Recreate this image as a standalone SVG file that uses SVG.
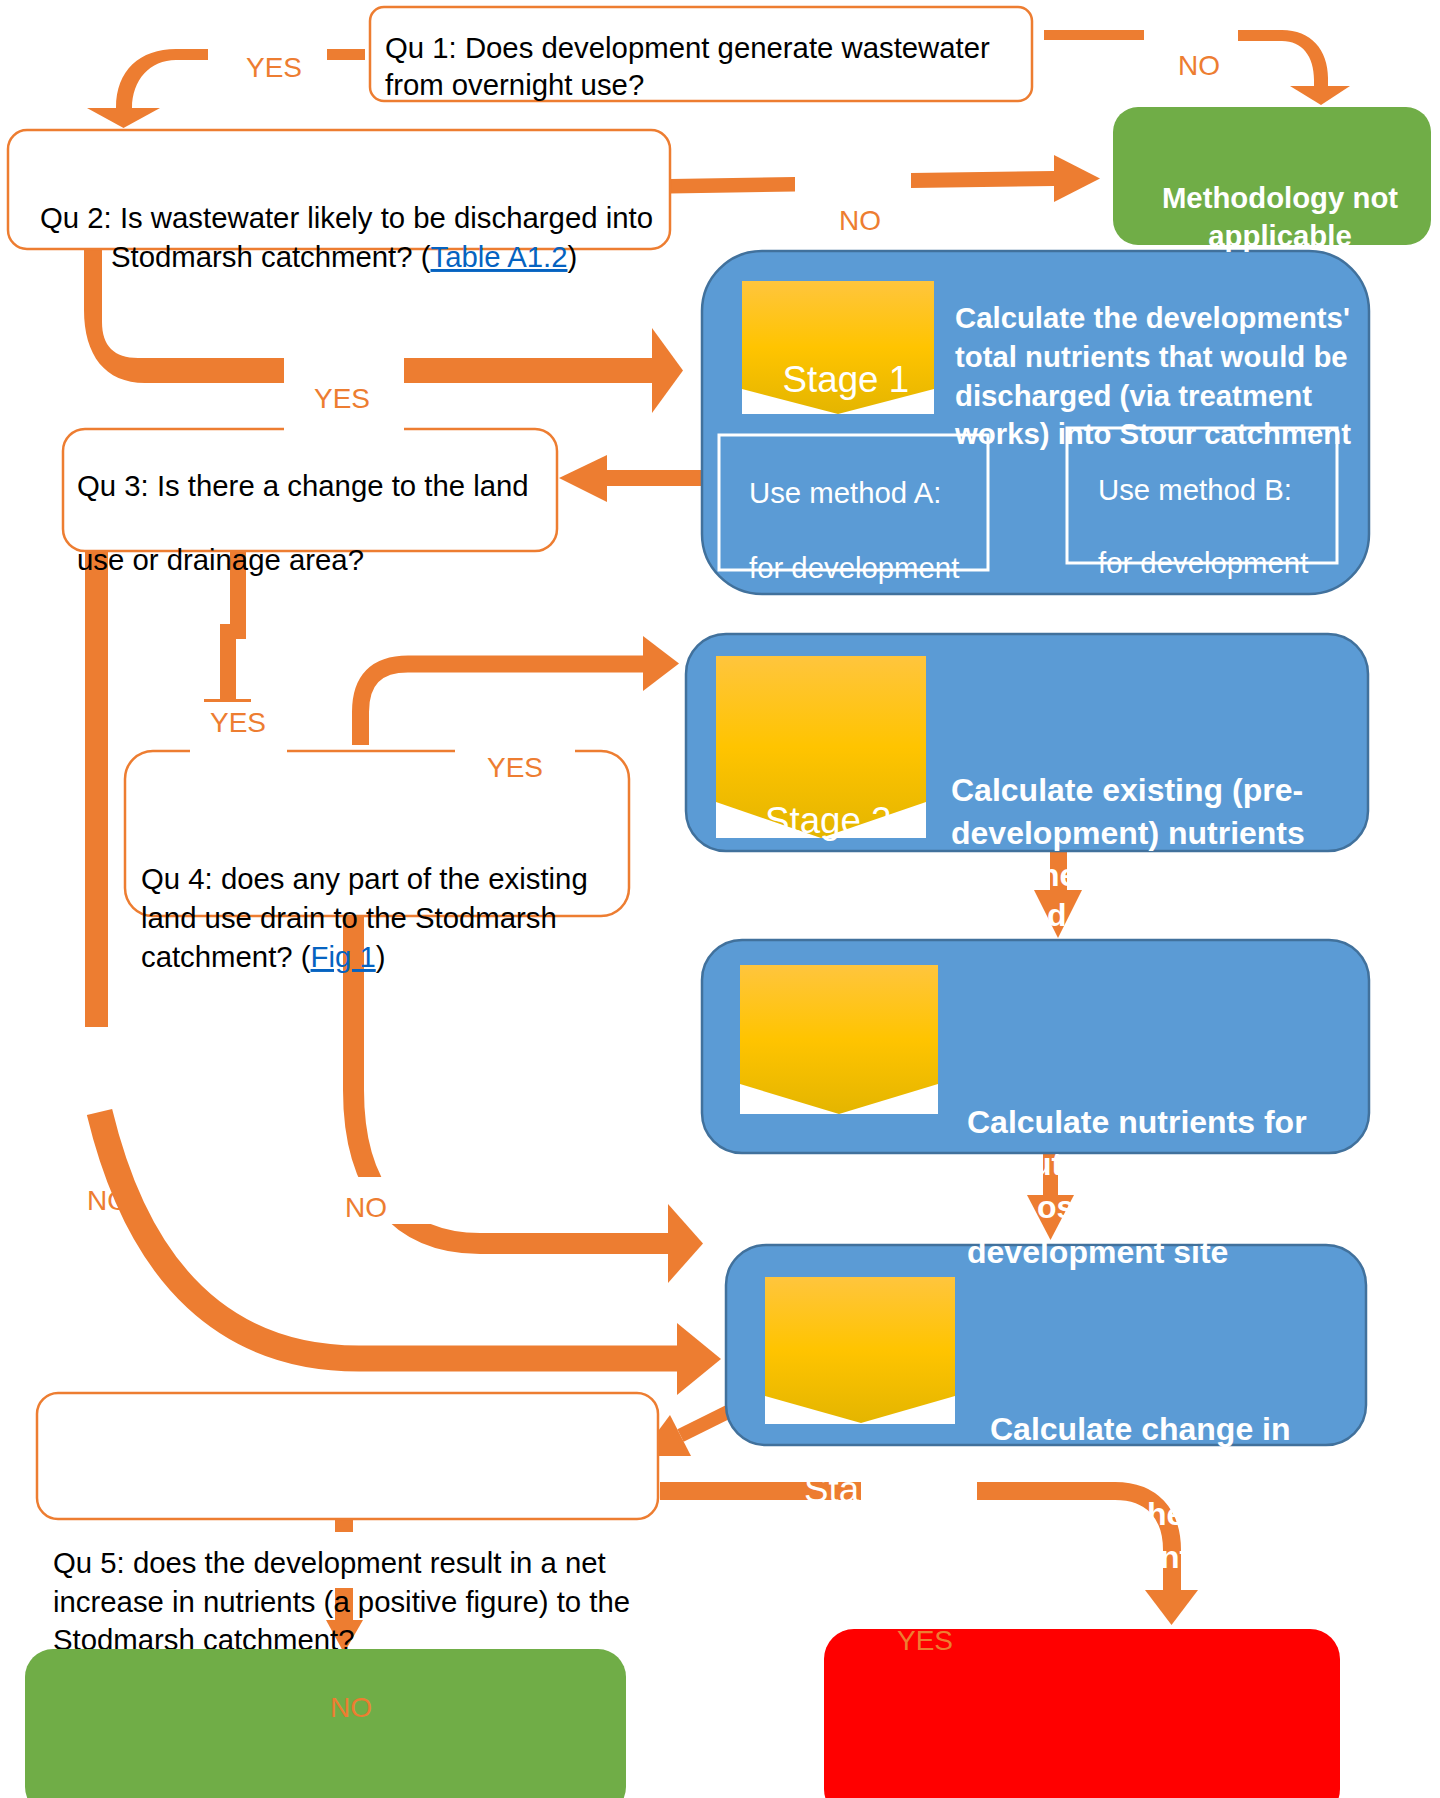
<svg xmlns="http://www.w3.org/2000/svg" width="1440" height="1798" viewBox="0 0 1440 1798">
<defs>
<linearGradient id="gold" x1="0" y1="0" x2="0" y2="1">
<stop offset="0" stop-color="#FFC53D"/>
<stop offset="0.5" stop-color="#FFC400"/>
<stop offset="1" stop-color="#E4B500"/>
</linearGradient>
</defs>
<style>
.q{fill:#fff;stroke:#ED7D31;stroke-width:2.5}
.stage{fill:#5B9BD5;stroke:#41719C;stroke-width:2.5}
.green{fill:#70AD47}
.t{font-family:"Liberation Sans",Arial,sans-serif;font-size:29.33px;fill:#000}
.wt{font-family:"Liberation Sans",Arial,sans-serif;font-size:29.33px;fill:#fff;font-weight:bold}
.wt32{font-family:"Liberation Sans",Arial,sans-serif;font-size:32px;fill:#fff;font-weight:bold}
.wr{font-family:"Liberation Sans",Arial,sans-serif;font-size:29.33px;fill:#fff}
.stg{font-family:"Liberation Sans",Arial,sans-serif;font-size:36.7px;fill:#fff}
.lab{font-family:"Liberation Sans",Arial,sans-serif;font-size:28px;fill:#ED7D31}
.link{fill:#0563C1;text-decoration:underline}
.meth{fill:none;stroke:#fff;stroke-width:3}
.os{fill:none;stroke:#ED7D31}
.mask{fill:#fff}
</style>
<rect x="0" y="0" width="1440" height="1798" fill="#fff"/>

<g id="label-no-qu3">
<text class="lab" x="87" y="1210">NO</text>
</g>

<g id="connectors" fill="#ED7D31">
<!-- Qu1 YES -> Qu2 -->
<rect x="327" y="49" width="38" height="11"/>
<path d="M208 49 H176 C140 49 116 70 116 108 H132 C132 80 150 60 176 60 H208 Z"/>
<polygon points="87,108 160,108 123.5,128"/>
<!-- Qu1 NO -> Methodology -->
<rect x="1044" y="30" width="100" height="10"/>
<path d="M1238 30 H1282 C1311 30 1328 50 1328 78 V86 H1314 V80 C1314 56 1302 41 1282 41 H1238 Z"/>
<polygon points="1290,86 1350,86 1321,105"/>
<!-- Qu2 NO -> Methodology -->
<polygon points="670,179 795,177 795,191.5 670,193.5"/>
<polygon points="911,173 1054,171 1054,186 911,188"/>
<polygon points="1054,155 1100,178.5 1054,202"/>
<!-- Qu2 YES -> Stage 1 -->
<path d="M84 249 V310 C84 355 105 383 145 383 H284 V358 H138 C114 358 102 346 102 322 V249 Z"/>
<rect x="404" y="358" width="250" height="25"/>
<polygon points="652,328 683,370.5 652,413"/>
<!-- Stage 1 -> Qu3 -->
<rect x="606" y="470" width="97" height="16"/>
<polygon points="607,455 559,478 607,502"/>
<!-- Qu3 YES -> Qu4 -->
<rect x="230" y="551" width="16" height="88"/>
<rect x="220" y="624" width="16" height="76"/>
<rect x="204" y="699" width="47" height="3"/>
<!-- Qu4 YES -> Stage 2 -->
<path class="os" stroke-width="17" d="M360.5 745 V712 Q360.5 664 408 664 H645"/>
<polygon points="643,636 679,663.5 643,691"/>
<!-- Qu3 NO -> Stage 4 -->
<rect x="85" y="551" width="23" height="476"/>
<path class="os" stroke-width="26" d="M99.5 1112 C140 1280 230 1358.5 359 1358.5 H680"/>
<polygon points="677,1323 721,1359 677,1395"/>
<!-- Qu4 NO -> Stage 3/4 -->
<path class="os" stroke-width="21" d="M353.5 916 V1090 C353.5 1190 400 1243.5 480 1243.5 H670"/>
<polygon points="668,1204 703,1243.5 668,1283"/>
<!-- Stage 2 -> Stage 3 -->
<rect x="1050" y="851" width="17" height="40"/>
<polygon points="1034,890 1082,890 1058,938"/>
<!-- Stage 3 -> Stage 4 -->
<rect x="1043" y="1153" width="15" height="43"/>
<polygon points="1027,1195 1074,1195 1050.5,1240"/>
<!-- Stage 4 -> Qu5 -->
<polygon points="744.9,1395.7 751.1,1408.3 683.6,1441.8 677.4,1429.2"/>
<polygon points="670,1415 691,1456 639.5,1456"/>
<!-- Qu5 NO -> green -->
<rect x="335" y="1519" width="18" height="13"/>
<rect x="335" y="1588" width="18" height="33"/>
<polygon points="326,1620 363,1620 344,1653"/>
<!-- Qu5 YES -> red -->
<rect x="660" y="1482" width="201" height="18"/>
<path class="os" stroke-width="18" d="M977 1491 H1115 C1152 1491 1172 1514 1172 1550 V1591"/>
<polygon points="1145,1590 1198,1590 1171.5,1625"/>
</g>

<g id="qu1">
<rect class="q" x="370" y="7" width="662" height="94" rx="14"/>
<text class="t" x="385" y="58">Qu 1: Does development generate wastewater</text>
<text class="t" x="385" y="95">from overnight use?</text>
</g>

<g id="qu2">
<rect class="q" x="8" y="130" width="662" height="119" rx="19"/>
<text class="t" x="40" y="228">Qu 2: Is wastewater likely to be discharged into</text>
<text class="t" x="111" y="267">Stodmarsh catchment? (<tspan class="link">Table A1.2</tspan>)</text>
</g>

<g id="stage1">
<rect class="stage" x="702" y="251" width="667" height="343" rx="60"/>
<rect x="742" y="281" width="192" height="133" fill="#fff"/>
<polygon points="742,281 934,281 934,389 838,414 742,389" fill="url(#gold)"/>
<text class="stg" x="782.6" y="392">Stage 1</text>
<text class="wt" x="955" y="328">Calculate the developments'</text>
<text class="wt" x="955" y="367">total nutrients that would be</text>
<text class="wt" x="955" y="406">discharged (via treatment</text>
<text class="wt" x="955" y="444">works) into Stour catchment</text>
<g id="methodA">
<rect class="meth" x="719" y="435" width="269" height="135"/>
<text class="wr" x="749" y="503">Use method A:</text>
<text class="wr" x="749" y="578">for development</text>
</g>
<g id="methodB">
<rect class="meth" x="1067" y="428" width="270" height="135"/>
<text class="wr" x="1098" y="500">Use method B:</text>
<text class="wr" x="1098" y="573">for development</text>
</g>
</g>

<g id="methodology-not-applicable">
<rect class="green" x="1113" y="107" width="318" height="138" rx="25"/>
<text class="wt" x="1280" y="208" text-anchor="middle">Methodology not</text>
<text class="wt" x="1280" y="246" text-anchor="middle">applicable</text>
</g>

<g id="qu3">
<rect class="q" x="63" y="429" width="494" height="122" rx="22"/>
<text class="t" x="77" y="496">Qu 3: Is there a change to the land</text>
<text class="t" x="77" y="570">use or drainage area?</text>
</g>

<g id="qu4">
<rect class="q" x="125" y="751" width="504" height="165" rx="28"/>
<text class="t" x="141" y="889">Qu 4: does any part of the existing</text>
<text class="t" x="141" y="928">land use drain to the Stodmarsh</text>
<text class="t" x="141" y="967">catchment? (<tspan class="link">Fig 1</tspan>)</text>
</g>

<g id="stage4">
<rect class="stage" x="726" y="1245" width="640" height="200" rx="40"/>
<rect x="765" y="1277" width="190" height="147" fill="#fff"/>
<polygon points="765,1277 955,1277 955,1396 861,1423 765,1396" fill="url(#gold)"/>
<text class="wt32" x="990" y="1440">Calculate change in</text>
<text class="stg" x="804" y="1502">Sta</text>
<text class="wt32" x="1147" y="1525">he</text>
<text class="wt32" x="1160" y="1568">nt</text>
</g>

<g id="stage3">
<rect class="stage" x="702" y="940" width="667" height="213" rx="40"/>
<rect x="740" y="965" width="198" height="149" fill="#fff"/>
<polygon points="740,965 938,965 938,1084 839,1114 740,1084" fill="url(#gold)"/>
<text class="wt32" x="967" y="1133">Calculate nutrients for</text>
<text class="wt32" x="1032" y="1175">ut</text>
<text class="wt32" x="1037" y="1218">os</text>
<text class="wt32" x="967" y="1263">development site</text>
</g>

<g id="stage2">
<rect class="stage" x="686" y="634" width="682" height="217" rx="40"/>
<rect x="716" y="656" width="210" height="182" fill="#fff"/>
<polygon points="716,656 926,656 926,802 821,838 716,802" fill="url(#gold)"/>
<text class="stg" x="765" y="833">Stage 2</text>
<text class="wt32" x="951" y="801">Calculate existing (pre-</text>
<text class="wt32" x="951" y="844">development) nutrients</text>
<text class="wt32" x="1040" y="886">he</text>
<text class="wt32" x="1047" y="926">d</text>
</g>

<g id="qu5">
<rect class="q" x="37" y="1393" width="621" height="126" rx="21"/>
<text class="t" x="53" y="1573">Qu 5: does the development result in a net</text>
<text class="t" x="53" y="1612">increase in nutrients (a positive figure) to the</text>
<text class="t" x="53" y="1650">Stodmarsh catchment?</text>
</g>

<g id="result-no">
<rect class="green" x="25" y="1649" width="601" height="166" rx="28"/>
</g>

<g id="result-yes">
<rect x="824" y="1629" width="516" height="190" rx="30" fill="#FF0000"/>
</g>

<g id="labels">
<rect class="mask" x="284" y="352" width="120" height="82"/>
<rect class="mask" x="190" y="703" width="97" height="53"/>
<rect class="mask" x="455" y="740" width="120" height="16"/>
<rect class="mask" x="300" y="1177" width="137" height="47"/>
<text class="lab" x="246" y="77">YES</text>
<text class="lab" x="1178" y="75">NO</text>
<text class="lab" x="839" y="230">NO</text>
<text class="lab" x="314" y="408">YES</text>
<text class="lab" x="210" y="732">YES</text>
<text class="lab" x="487" y="777">YES</text>
<text class="lab" x="345" y="1217">NO</text>
<text class="lab" x="330" y="1717">NO</text>
<text class="lab" x="897" y="1650">YES</text>
</g>
</svg>
